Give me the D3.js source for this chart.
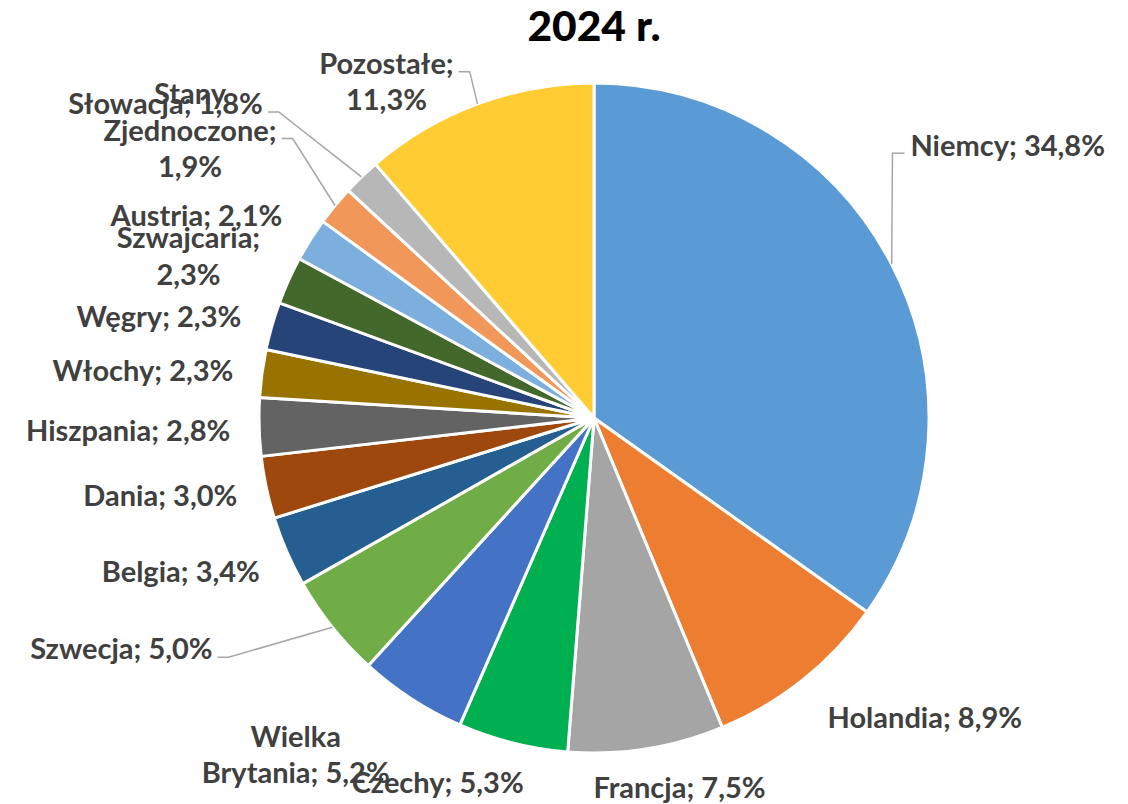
<!DOCTYPE html>
<html><head><meta charset="utf-8">
<script src="https://cdn.jsdelivr.net/npm/d3@7/dist/d3.min.js"></script>
<style>
html,body{margin:0;padding:0;background:#fff;}
svg{display:block;}
</style></head>
<body>
<svg id="chart" width="1128" height="804"></svg>
<script>
// ---- data ----
const title = "2024 r.";
const countries = ["Niemcy","Holandia","Francja","Czechy","Wielka Brytania","Szwecja","Belgia","Dania","Hiszpania","Włochy","Węgry","Szwajcaria","Austria","Stany Zjednoczone","Słowacja","Pozostałe"];
const shares = [34.8,8.9,7.5,5.3,5.2,5.0,3.4,3.0,2.8,2.3,2.3,2.3,2.1,1.9,1.8,11.3];
const colors = ["#5B9BD5","#ED7D31","#A5A5A5","#00B050","#4472C4","#70AD47","#255E91","#9E480E","#636363","#997300","#264478","#43682B","#7CAFDD","#F1975A","#B7B7B7","#FFCD33"];
// label text lines (as wrapped in the original)
const labelLines = [
  ["Niemcy; 34,8%"],["Holandia; 8,9%"],["Francja; 7,5%"],["Czechy; 5,3%"],
  ["Wielka","Brytania; 5,2%"],["Szwecja; 5,0%"],["Belgia; 3,4%"],["Dania; 3,0%"],
  ["Hiszpania; 2,8%"],["Włochy; 2,3%"],["Węgry; 2,3%"],["Szwajcaria;","2,3%"],
  ["Austria; 2,1%"],["Stany","Zjednoczone;","1,9%"],["Słowacja; 1,8%"],["Pozostałe;","11,3%"]
];

// ---- layout (offset of label block centre from the slice's outer mid point) ----
const labelOffset = [
  [116,-119],[122,38],[33,39],[-75,40],[-116,56],[-211,22],[-106,20],[-106,8],
  [-131,4],[-119,-3],[-113,-9],[-100,-24],[-114,-24],[-145,-75],[-196,-73],[-91,-22]
];
// which label line a leader line attaches to (-1 = no leader)
const leaderLine = [0,-1,-1,-1,-1,0,-1,-1,-1,-1,-1,-1,-1,1,0,0];

const W = 1128, H = 804;
const cx = 594, cy = 418, R = 335;
const fontSize = 29, lineH = 36.5;

const svg = d3.select("#chart");

svg.append("text")
  .attr("x", 594).attr("y", 41)
  .attr("text-anchor","middle")
  .attr("font-family","Lato, 'Open Sans', sans-serif")
  .attr("font-weight","900")
  .attr("font-size", 42.5)
  .attr("fill","#000")
  .text(title);

const data = countries.map((c,i)=>({name:c, value:shares[i], color:colors[i], lines:labelLines[i], off:labelOffset[i], leader:leaderLine[i]}));

const pie = d3.pie().sort(null).value(d=>d.value);
const arcs = pie(data);
const arc = d3.arc().innerRadius(0).outerRadius(R);

const g = svg.append("g").attr("transform",`translate(${cx},${cy})`);
g.selectAll("path.slice").data(arcs).join("path")
  .attr("class","slice")
  .attr("d", arc)
  .attr("fill", d=>d.data.color)
  .attr("stroke","#fff")
  .attr("stroke-width",3)
  .attr("stroke-linejoin","round");

// labels
const lg = g.append("g");
arcs.forEach(a=>{
  const mid = (a.startAngle + a.endAngle)/2;
  const px = R*Math.sin(mid), py = -R*Math.cos(mid);
  const lx = px + a.data.off[0], ly = py + a.data.off[1];
  const n = a.data.lines.length;
  const t = lg.append("text")
    .attr("text-anchor","middle")
    .attr("font-family","Lato, 'Open Sans', sans-serif")
    .attr("font-weight","bold")
    .attr("font-size", fontSize)
    .attr("fill","#404040");
  a.data.lines.forEach((ln,k)=>{
    t.append("tspan").attr("x", lx)
      .attr("y", ly + (k - (n-1)/2)*lineH)
      .attr("dy","0.35em")
      .text(ln);
  });
  if (a.data.leader >= 0) {
    const k = a.data.leader;
    const tsp = t.selectAll("tspan").nodes()[k];
    const w = tsp.getComputedTextLength();
    const yLine = ly + (k - (n-1)/2)*lineH + 8;
    let ex, elx;
    if (lx > px) { ex = lx - w/2 - 6; elx = ex - 12; }
    else { ex = lx + w/2 + 5; elx = ex + 11; }
    lg.insert("path","text")
      .attr("d", d3.line()([[px, py],[elx, yLine],[ex, yLine]]))
      .attr("fill","none")
      .attr("stroke","#A6A6A6")
      .attr("stroke-width",1.5);
  }
});
</script>
</body></html>
